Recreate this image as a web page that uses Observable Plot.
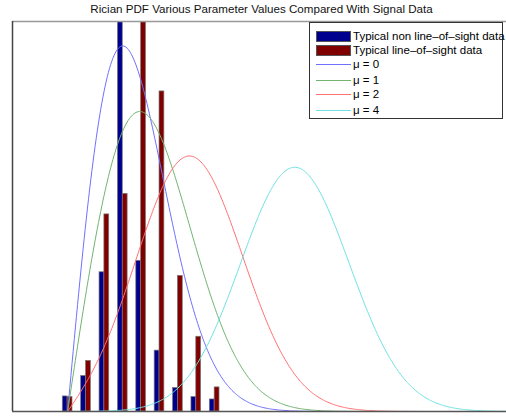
<!DOCTYPE html>
<html><head><meta charset="utf-8">
<script src="https://cdn.jsdelivr.net/npm/d3@7"></script>
<script src="https://cdn.jsdelivr.net/npm/@observablehq/plot@0.6"></script>
<style>
body{margin:0;background:#fff;font-family:"Liberation Sans",Arial,sans-serif;}
#wrap{position:relative;width:506px;height:417px;overflow:hidden;background:#fff}
#title{height:20px;position:relative}
#title span{position:absolute;left:261.5px;top:2px;transform:translateX(-50%);white-space:nowrap;font-size:11.6px;line-height:13px;color:#111}
#legend{position:absolute;left:309px;top:22px;width:194px;height:97px;border:1px solid #333;background:#fff;font-size:11.5px;color:#000;box-sizing:border-box}
.row{position:absolute;left:0;height:14px;width:190px}
.sw{position:absolute;left:6px;width:35px;box-sizing:border-box}
.lab{position:absolute;left:43px;white-space:nowrap;line-height:14px;top:0}
</style>
</head><body>
<div id="wrap">
<div id="title"><span>Rician PDF Various Parameter Values Compared With Signal Data</span></div>
<div id="chart"></div>
<div id="legend"></div>
</div>
<script>
// Histogram bin centres (x) and bar heights for the two signal data sets
const binCenters = [0, 1/3, 2/3, 1, 4/3, 5/3, 2, 7/3, 8/3];
const nlosValues = [0.025, 0.059, 0.231, 0.75, 0.25, 0.101, 0.039, 0.024, 0.020];
const losValues  = [0.024, 0.084, 0.327, 0.361, 0.72, 0.531, 0.225, 0.124, 0.040];

// Rician PDF parameters
const sigma = 1;
const nuValues = [0, 1, 2, 4];
const nuLabels = ["μ = 0", "μ = 1", "μ = 2", "μ = 4"];
const lineColors = ["#7070ff", "#70b470", "#ff7070", "#70e2e2"];
const barLabels = ["Typical non line–of–sight data", "Typical line–of–sight data"];
const barColors = ["#00008f", "#800000"];

const xDomain = [-1, 7.96];
const yDomain = [0, 0.647];
const halfW = 0.088;

function besselI0(z) {
  let sum = 1, term = 1;
  for (let k = 1; k < 300; k++) {
    term *= (z / 2) * (z / 2) / (k * k);
    sum += term;
    if (term < 1e-14 * sum) break;
  }
  return sum;
}
function ricePdf(x, nu, s) {
  const s2 = s * s;
  return (x / s2) * Math.exp(-(x * x + nu * nu) / (2 * s2)) * besselI0(x * nu / s2);
}

const xs = d3.range(0, 8.001, 0.02);
const curves = nuValues.flatMap((nu, i) => xs.map(x => ({x, y: ricePdf(x, nu, sigma), label: nuLabels[i]})));

const nlos = binCenters.map((c, i) => ({c, v: nlosValues[i]}));
const los = binCenters.map((c, i) => ({c, v: losValues[i]}));

const plot = Plot.plot({
  width: 506,
  height: 397,
  marginLeft: 12,
  marginRight: 0,
  marginTop: 1,
  marginBottom: 6,
  x: {domain: xDomain, axis: null},
  y: {domain: yDomain, axis: null},
  color: {domain: nuLabels, range: lineColors},
  style: {background: "transparent"},
  marks: [
    Plot.rectY(nlos, {x1: d => d.c - halfW, x2: d => d.c, y: "v", fill: barColors[0], stroke: "#7a7a7a", strokeWidth: 0.7, clip: true}),
    Plot.rectY(los, {x1: d => d.c, x2: d => d.c + halfW, y: "v", fill: barColors[1], stroke: "#7a7a7a", strokeWidth: 0.7, clip: true}),
    Plot.line(curves, {x: "x", y: "y", stroke: "label", z: "label", strokeWidth: 1, clip: true}),
    Plot.ruleY([yDomain[1]], {stroke: "#999", strokeWidth: 1.5}),
    Plot.ruleX([xDomain[0]], {stroke: "#444", strokeWidth: 1.5}),
    Plot.ruleY([0], {stroke: "#555", strokeWidth: 1.5})
  ]
});
document.getElementById("chart").appendChild(plot);

// Legend
const legend = d3.select("#legend");
const rowTops = [6, 20, 34, 49.5, 64, 79.5];
const entries = barLabels.map((l, i) => ({label: l, color: barColors[i], type: "bar"}))
  .concat(nuLabels.map((l, i) => ({label: l, color: lineColors[i], type: "line"})));
entries.forEach((e, i) => {
  const row = legend.append("div").attr("class", "row").style("top", rowTops[i] + "px");
  if (e.type === "bar") {
    row.append("div").attr("class", "sw")
      .style("top", "1.5px").style("height", "11px")
      .style("background", e.color).style("border", "1px solid #555");
  } else {
    row.append("div").attr("class", "sw")
      .style("top", "7px").style("height", "1px").style("background", e.color);
  }
  row.append("div").attr("class", "lab").text(e.label);
});
</script>
</body></html>
